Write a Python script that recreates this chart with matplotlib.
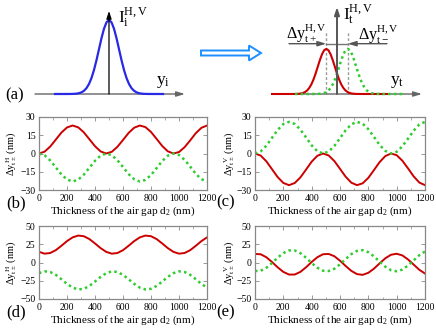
import numpy as np
import matplotlib
matplotlib.use('Agg')
import matplotlib.pyplot as plt
from matplotlib.patches import FancyArrow
from matplotlib.ticker import MultipleLocator

# ---------------- data ----------------
thickness = [0, 40, 80, 120, 160, 200, 240, 280, 320, 360, 400, 440, 480, 520, 560,
             600, 640, 680, 720, 760, 800, 840, 880, 920, 960, 1000, 1040, 1080,
             1120, 1160, 1200]

b_red = [0.0, 1.5, 5.7, 11.4, 17.2, 21.4, 23.0, 21.5, 17.4, 11.7, 6.0, 1.7, 0.0, 1.4, 5.5,
         11.1, 16.9, 21.2, 23.0, 21.7, 17.7, 12.0, 6.2, 1.8, 0.0, 1.2, 5.2, 10.8, 16.7, 21.1, 23.0]
b_green = [-0.0, -1.5, -5.7, -11.4, -17.2, -21.4, -23.0, -21.5, -17.4, -11.7, -6.0, -1.7, -0.0,
           -1.4, -5.5, -11.1, -16.9, -21.2, -23.0, -21.7, -17.7, -12.0, -6.2, -1.8, -0.0, -1.2,
           -5.2, -10.8, -16.7, -21.1, -23.0]

c_red = [0.0, -1.7, -6.4, -12.9, -19.4, -24.2, -26.0, -24.3, -19.7, -13.3, -6.7, -1.9, 0.0,
         -1.6, -6.2, -12.6, -19.1, -24.0, -26.0, -24.5, -20.0, -13.6, -7.0, -2.1, 0.0, -1.4,
         -5.9, -12.2, -18.8, -23.9, -26.0]
c_green = [0.0, 1.7, 6.4, 12.9, 19.4, 24.2, 26.0, 24.3, 19.7, 13.3, 6.7, 1.9, 0.0, 1.6, 6.2,
           12.6, 19.1, 24.0, 26.0, 24.5, 20.0, 13.6, 7.0, 2.1, 0.0, 1.4, 5.9, 12.2, 18.8, 23.9, 26.0]

d_red = [14.6, 12.1, 13.0, 16.9, 22.9, 29.3, 34.4, 36.9, 36.0, 32.1, 26.1, 19.7, 14.6, 12.1,
         13.0, 16.9, 22.9, 29.3, 34.4, 36.9, 36.0, 32.1, 26.1, 19.7, 14.6, 12.1, 13.0, 16.9,
         22.9, 29.3, 34.4]
d_green = [-14.6, -12.1, -13.0, -16.9, -22.9, -29.3, -34.4, -36.9, -36.0, -32.1, -26.1, -19.7,
           -14.6, -12.1, -13.0, -16.9, -22.9, -29.3, -34.4, -36.9, -36.0, -32.1, -26.1, -19.7,
           -14.6, -12.1, -13.0, -16.9, -22.9, -29.3, -34.4]

e_red = [11.7, 11.3, 7.2, 0.7, -6.6, -12.9, -16.5, -16.5, -12.9, -6.6, 0.7, 7.2, 11.3, 11.7,
         8.6, 2.5, -4.8, -11.5, -15.9, -16.9, -14.1, -8.4, -1.1, 5.8, 10.6, 12.0, 9.7, 4.2,
         -2.9, -10.0, -15.1]
e_green = [-11.7, -11.3, -7.2, -0.7, 6.6, 12.9, 16.5, 16.5, 12.9, 6.6, -0.7, -7.2, -11.3, -11.7,
           -8.6, -2.5, 4.8, 11.5, 15.9, 16.9, 14.1, 8.4, 1.1, -5.8, -10.6, -12.0, -9.7, -4.2,
           2.9, 10.0, 15.1]

x_ticks = [0, 200, 400, 600, 800, 1000, 1200]
yticks_bc = [-30, -15, 0, 15, 30]
yticks_de = [-50, -25, 0, 25, 50]

# schematic beam profile (normalised gaussian samples)
pulse_x = [-4.0, -3.75, -3.5, -3.25, -3.0, -2.75, -2.5, -2.25, -2.0, -1.75, -1.5, -1.25, -1.0,
           -0.75, -0.5, -0.25, 0.0, 0.25, 0.5, 0.75, 1.0, 1.25, 1.5, 1.75, 2.0, 2.25, 2.5,
           2.75, 3.0, 3.25, 3.5, 3.75, 4.0]
pulse_y = [0.0003, 0.0009, 0.0022, 0.0051, 0.0111, 0.0228, 0.0439, 0.0796, 0.1353, 0.2163,
           0.3247, 0.4578, 0.6065, 0.7548, 0.8825, 0.9692, 1.0, 0.9692, 0.8825, 0.7548, 0.6065,
           0.4578, 0.3247, 0.2163, 0.1353, 0.0796, 0.0439, 0.0228, 0.0111, 0.0051, 0.0022,
           0.0009, 0.0003]
incident_amp = 1.0
incident_width = 1.0
trans_amp = 0.61
trans_width = 0.85
shift_plus = -1.07
shift_minus = 1.07

# ---------------- style ----------------
plt.rcParams['font.family'] = ['Liberation Serif', 'DejaVu Serif']
plt.rcParams['mathtext.fontset'] = 'custom'
plt.rcParams['mathtext.rm'] = 'Liberation Serif'
plt.rcParams['mathtext.it'] = 'Liberation Serif:italic'
plt.rcParams['mathtext.bf'] = 'Liberation Serif:bold'

RED = '#cc0000'
GREEN = '#2ecc2e'
FRAME = '#888888'

W, H = 436, 328
fig = plt.figure(figsize=(W / 100, H / 100), dpi=100)


def pix_axes(x0, y0, x1, y1):
    return fig.add_axes([x0 / W, 1 - y1 / H, (x1 - x0) / W, (y1 - y0) / H])


def style_plot(ax, yticks, ylabel):
    ax.set_xlim(0, 1200)
    ax.set_ylim(yticks[0], yticks[-1])
    ax.set_xticks(x_ticks)
    ax.set_yticks(yticks)
    ax.xaxis.set_minor_locator(MultipleLocator(100))
    ax.tick_params(which='both', direction='in', top=True, right=True, labelsize=7,
                   color=FRAME)
    ax.tick_params(axis='x', pad=3)
    ax.tick_params(axis='y', pad=2.5)
    ax.tick_params(which='major', length=3, width=0.6)
    ax.tick_params(which='minor', length=1.8, width=0.5)
    for s in ax.spines.values():
        s.set_color(FRAME)
        s.set_linewidth(0.9)
    ax.set_xlabel(r'Thickness of the air gap d$_{\mathrm{2}}$ (nm)', fontsize=8, labelpad=1)
    ax.set_ylabel(ylabel, fontsize=7.5, labelpad=0)


def draw(ax, red, green):
    ax.plot(thickness, red, color=RED, lw=1.4, solid_joinstyle='round')
    ax.plot(thickness, green, color=GREEN, lw=1.8, linestyle=(0, (1.0, 1.3)),
            dash_capstyle='butt')


axb = pix_axes(39, 117, 207, 190)
axc = pix_axes(255, 117, 425, 190)
axd = pix_axes(39, 226, 207, 299)
axe = pix_axes(255, 226, 425, 299)

lab_H = r'$\Delta\mathrm{y}_{\mathrm{t\pm}}^{\ \mathrm{H}}$ (nm)'
lab_V = r'$\Delta\mathrm{y}_{\mathrm{t\pm}}^{\ \mathrm{V}}$ (nm)'
draw(axb, b_red, b_green); style_plot(axb, yticks_bc, lab_H)
draw(axc, c_red, c_green); style_plot(axc, yticks_bc, lab_V)
draw(axd, d_red, d_green); style_plot(axd, yticks_de, lab_H)
draw(axe, e_red, e_green); style_plot(axe, yticks_de, lab_V)
for ax in (axb, axd):
    ax.yaxis.set_label_coords(-0.118, 0.5)
for ax in (axc, axe):
    ax.yaxis.set_label_coords(-0.105, 0.5)

# ---------------- schematics ----------------
PX = 10.0   # pixels per unit in x
PY = 74.0   # pixels per unit in y
ylim_s = (-(105 - 94) / PY, 94 / PY)

axa = pix_axes(0, 0, 218, 105)
axa.set_xlim((0 - 109) / PX, (218 - 109) / PX)
axa.set_ylim(*ylim_s)
axa.axis('off')

px = np.array(pulse_x)
py = np.array(pulse_y)

axa.annotate('', xy=(7.6, 0), xytext=(-7.4, 0),
             arrowprops=dict(arrowstyle='-|>,head_length=0.5,head_width=0.15',
                             color='#666666', lw=1.0, shrinkA=0, shrinkB=0))
xi = np.r_[-5.4, px * incident_width, 5.4]
yi = np.r_[0, py * incident_amp, 0]
axa.plot(xi, yi, color='#2828e6', lw=1.6, zorder=3)
axa.annotate('', xy=(0, (94 - 11) / PY), xytext=(0, 0),
             arrowprops=dict(arrowstyle='-|>,head_length=0.45,head_width=0.15',
                             color='black', lw=0.9, shrinkA=0, shrinkB=0), zorder=4)

axt = pix_axes(218, 0, 436, 105)
axt.set_xlim((218 - 337) / PX, (436 - 337) / PX)
axt.set_ylim(*ylim_s)
axt.axis('off')
axt.annotate('', xy=(8.5, 0), xytext=(-6.5, 0),
             arrowprops=dict(arrowstyle='-|>,head_length=0.5,head_width=0.15',
                             color='#666666', lw=1.0, shrinkA=0, shrinkB=0))
xr = np.r_[-6.5, px * trans_width + shift_plus, 5.0]
yr = np.r_[0, py * trans_amp, 0]
xg = np.r_[-4.2, px * trans_width + shift_minus, 6.6]
yg = np.r_[0, py * trans_amp, 0]
axt.plot(xr, yr, color=RED, lw=1.5, zorder=3)
axt.plot(xg, yg, color=GREEN, lw=1.8, linestyle=(0, (1.0, 1.3)), zorder=3)
for s in (shift_plus, shift_minus):
    axt.plot([s, s], [0, (94 - 32) / PY], color='#999999', lw=1.0,
             linestyle=(0, (2, 1.5)), zorder=2)
axt.annotate('', xy=(0, (94 - 7) / PY), xytext=(0, 0),
             arrowprops=dict(arrowstyle='-|>,head_length=0.45,head_width=0.15',
                             color='#555555', lw=1.4, shrinkA=0, shrinkB=0), zorder=4)
ya = (94 - 43.7) / PY
axt.plot([shift_plus, shift_minus], [ya, ya], color='#777777', lw=1.0)
axt.annotate('', xy=(shift_plus, ya), xytext=(-4.8, ya),
             arrowprops=dict(arrowstyle='-|>,head_length=0.5,head_width=0.15',
                             color='#555555', lw=1.0, shrinkA=0, shrinkB=0))
axt.annotate('', xy=(shift_minus, ya), xytext=(5.0, ya),
             arrowprops=dict(arrowstyle='-|>,head_length=0.5,head_width=0.15',
                             color='#555555', lw=1.0, shrinkA=0, shrinkB=0))

# overlay for text & hollow arrow (pixel coordinates)
ov = fig.add_axes([0, 0, 1, 1], zorder=10)
ov.set_xlim(0, W)
ov.set_ylim(H, 0)
ov.axis('off')
ov.patch.set_alpha(0)

ov.add_patch(FancyArrow(201, 53, 60, 0, width=5, head_width=15, head_length=12,
                        length_includes_head=True, facecolor='white',
                        edgecolor='#1e8fff', lw=1.4))

ov.text(118, 18, r'$\mathrm{I}_{\mathrm{i}}^{\mathrm{H,V}}$', fontsize=12.5, ha='left', va='center')
ov.text(156, 82, r'$\mathrm{y}_{\mathrm{i}}$', fontsize=12.5, ha='left', va='center')
ov.text(343, 14, r'$\mathrm{I}_{\mathrm{t}}^{\mathrm{H,V}}$', fontsize=12.5, ha='left', va='center')
ov.text(286, 34, r'$\Delta\mathrm{y}_{\mathrm{t+}}^{\mathrm{H,V}}$', fontsize=11.5, ha='left', va='center')
ov.text(358, 35, r'$\Delta\mathrm{y}_{\mathrm{t-}}^{\mathrm{H,V}}$', fontsize=11.5, ha='left', va='center')
ov.text(390, 82, r'$\mathrm{y}_{\mathrm{t}}$', fontsize=12.5, ha='left', va='center')

for lab, x, y in (('(a)', 15, 95), ('(b)', 16, 203), ('(c)', 226, 202),
                  ('(d)', 16, 312), ('(e)', 226, 312)):
    ov.text(x, y, lab, fontsize=12, ha='center', va='center')

fig.savefig('out.png', dpi=100)
